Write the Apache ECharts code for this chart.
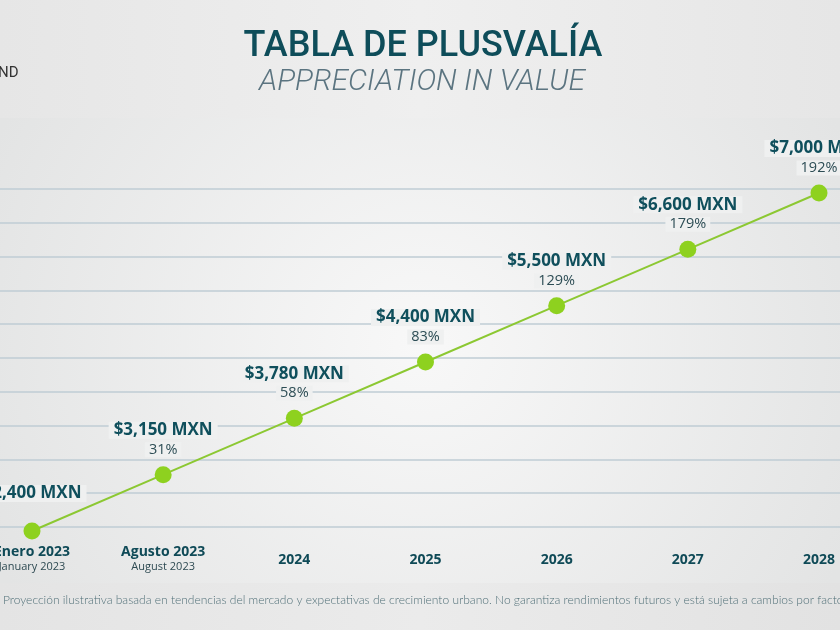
<!DOCTYPE html>
<html><head><meta charset="utf-8">
<script src="https://cdn.jsdelivr.net/npm/echarts@6/dist/echarts.min.js"></script>
<style>html,body{margin:0;padding:0;background:#eee;}#c{width:840px;height:630px;}</style>
</head><body><div id="c"></div>
<script>
// ---- data ----
const periodsEs = ['Enero 2023', 'Agusto 2023', '2024', '2025', '2026', '2027', '2028'];
const periodsEn = ['January 2023', 'August 2023', '', '', '', '', ''];
const prices = [2400, 3150, 3780, 4400, 5500, 6600, 7000];
const growthPct = [null, 31, 58, 83, 129, 179, 192];
const gridLevels = 10;

const priceLabels = prices.map(v => '$' + v.toLocaleString('en-US') + ' MXN');
const points = periodsEs.map((p, i) => [p, priceLabels[i]]);

const chart = echarts.init(document.getElementById('c'), null, { renderer: 'canvas' });
const bgLabel = '#eff0f0';

chart.setOption({
  animation: false,
  backgroundColor: {
    type: 'radial', x: 0.5, y: 0.55, r: 0.75,
    colorStops: [{ offset: 0, color: '#f8f8f8' }, { offset: 1, color: '#e3e4e4' }]
  },
  graphic: [
    { type: 'rect', z: -100, shape: { x: 0, y: 0, width: 840, height: 118 },
      style: { fill: { type: 'linear', x: 0, y: 0, x2: 1, y2: 0,
        colorStops: [{ offset: 0, color: '#e6e6e6' }, { offset: 0.5, color: '#efefef' }, { offset: 1, color: '#e6e6e6' }] } } },
    { type: 'rect', z: -100, shape: { x: 0, y: 583, width: 840, height: 47 },
      style: { fill: { type: 'linear', x: 0, y: 0, x2: 1, y2: 0,
        colorStops: [{ offset: 0, color: '#e4e4e4' }, { offset: 0.5, color: '#ebebeb' }, { offset: 1, color: '#e2e2e2' }] } } },
    { type: 'text', x: 423, y: 47, style: { text: 'TABLA DE PLUSVALÍA', textAlign: 'center', textVerticalAlign: 'middle',
      font: '500 36px Roboto', fill: '#0e4d5a' } },
    { type: 'text', x: 422, y: 82, style: { text: 'APPRECIATION IN VALUE', textAlign: 'center', textVerticalAlign: 'middle',
      font: 'italic 300 30px Roboto', fill: '#5b7480' } },
    { type: 'text', x: -2, y: 73, style: { text: 'ND', textAlign: 'left', textVerticalAlign: 'middle',
      font: '400 15px Roboto', fill: '#333333' } },
    { type: 'text', x: 3, y: 600, style: { text: 'Proyección ilustrativa basada en tendencias del mercado y expectativas de crecimiento urbano. No garantiza rendimientos futuros y está sujeta a cambios por factores externos.',
      textAlign: 'left', textVerticalAlign: 'middle', font: '300 12px Lato', fill: '#527179' } }
  ],
  grid: [
    { left: 32, right: 21, top: 193, bottom: 99, containLabel: false, outerBoundsMode: 'none' },
    { left: 0, right: 0, top: 189, bottom: 103, containLabel: false, outerBoundsMode: 'none' }
  ],
  xAxis: [
    { type: 'category', gridIndex: 0, data: periodsEs, boundaryGap: false,
      axisLine: { show: false }, axisTick: { show: false }, splitLine: { show: false },
      axisLabel: {
        interval: 0, margin: 14, hideOverlap: false,
        formatter: (v, i) => periodsEn[i] ? '{t|' + v + '}\n{s|' + periodsEn[i] + '}' : '{y|' + v + '}',
        rich: {
          t: { fontFamily: 'Open Sans', fontWeight: 700, fontSize: 14, color: '#0f4a57', lineHeight: 15 },
          s: { fontFamily: 'Open Sans', fontWeight: 400, fontSize: 11, color: '#2e4a52', lineHeight: 14 },
          y: { fontFamily: 'Open Sans', fontWeight: 700, fontSize: 14, color: '#0f4a57', lineHeight: 31 }
        }
      } },
    { type: 'value', gridIndex: 1, show: false, min: 0, max: 1 }
  ],
  yAxis: [
    { type: 'category', gridIndex: 0, data: priceLabels, boundaryGap: false, show: false },
    { type: 'value', gridIndex: 1, min: 0, max: gridLevels, interval: 1,
      axisLine: { show: false }, axisTick: { show: false }, axisLabel: { show: false },
      splitLine: { show: true, lineStyle: { color: '#bfcdd4', width: 1.6 } } }
  ],
  series: [{
    type: 'line', xAxisIndex: 0, yAxisIndex: 0, data: points,
    lineStyle: { color: '#8cc832', width: 2 },
    symbol: 'circle', symbolSize: 17,
    itemStyle: { color: '#8ed11f' },
    label: {
      show: true, position: 'top', distance: 7,
      formatter: p => '{p|' + priceLabels[p.dataIndex] + '}\n' + (growthPct[p.dataIndex] == null ? '{e| }' : '{q|' + growthPct[p.dataIndex] + '%}'),
      rich: {
        p: { fontFamily: 'Open Sans', fontWeight: 700, fontSize: 17, color: '#0f4f5c', lineHeight: 20, backgroundColor: bgLabel, padding: [0, 5] },
        q: { fontFamily: 'Open Sans', fontWeight: 400, fontSize: 14.5, color: '#2d4d55', lineHeight: 19, backgroundColor: bgLabel, padding: [0, 4] },
        e: { fontSize: 10, lineHeight: 12 }
      }
    }
  }]
});
</script></body></html>
